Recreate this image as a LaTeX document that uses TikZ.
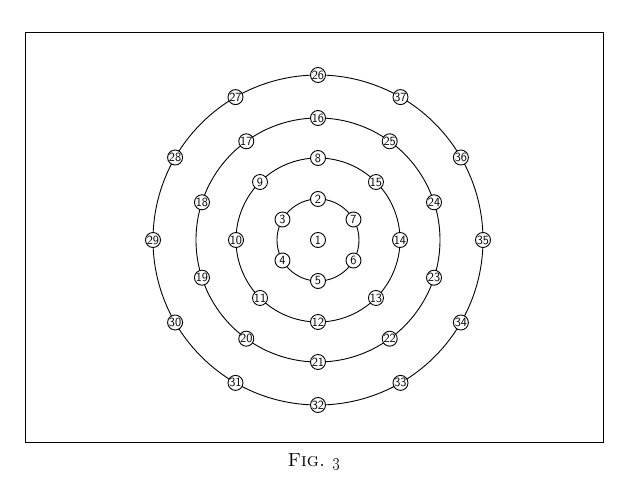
\documentclass[tikz,border=0pt]{standalone}
\usepackage{tikz}

\tikzset{num/.style={draw,circle,fill=white,inner sep=0pt,minimum size=15pt,
  line width=0.9pt,font=\sffamily\fontsize{12.5}{12.5}\selectfont}}

\begin{document}
\begin{tikzpicture}[x=1pt,y=1pt,line width=0.9pt]
\useasboundingbox (-318,-255) rectangle (315,240);
\draw[line width=1pt] (-292,-203) rectangle (286,207);

\node[num] (n1) at (0,0) {1};

% rings
\draw (n1.center) circle (41);
\draw (n1.center) circle (82);
\draw (n1.center) circle (122);
\draw (n1.center) circle (165);

% first ring
\node[num] (n2) at (90:41) {2};
\node[num] (n3) at (150:41) {3};
\node[num] (n4) at (210:41) {4};
\node[num] (n5) at (270:41) {5};
\node[num] (n6) at (330:41) {6};
\node[num] (n7) at (30:41) {7};

% second ring
\node[num] (n8) at (90:82) {8};
\node[num] (n9) at (135:82) {9};
\node[num] (n10) at (180:82) {10};
\node[num] (n11) at (225:82) {11};
\node[num] (n12) at (270:82) {12};
\node[num] (n13) at (315:82) {13};
\node[num] (n14) at (0:82) {14};
\node[num] (n15) at (45:82) {15};

% third ring
\node[num] (n16) at (90:122) {16};
\node[num] (n17) at (126:122) {17};
\node[num] (n18) at (162:122) {18};
\node[num] (n19) at (198:122) {19};
\node[num] (n20) at (234:122) {20};
\node[num] (n21) at (270:122) {21};
\node[num] (n22) at (306:122) {22};
\node[num] (n23) at (342:122) {23};
\node[num] (n24) at (18:122) {24};
\node[num] (n25) at (54:122) {25};

% outer ring
\node[num] (n26) at (90:165) {26};
\node[num] (n27) at (120:165) {27};
\node[num] (n28) at (150:165) {28};
\node[num] (n29) at (180:165) {29};
\node[num] (n30) at (210:165) {30};
\node[num] (n31) at (240:165) {31};
\node[num] (n32) at (270:165) {32};
\node[num] (n33) at (300:165) {33};
\node[num] (n34) at (330:165) {34};
\node[num] (n35) at (0:165) {35};
\node[num] (n36) at (30:165) {36};
\node[num] (n37) at (60:165) {37};

\node (caption) at (-4,-222) {\fontsize{19}{19}\selectfont\scshape Fig.\ \oldstylenums{3}};
\end{tikzpicture}
\end{document}
